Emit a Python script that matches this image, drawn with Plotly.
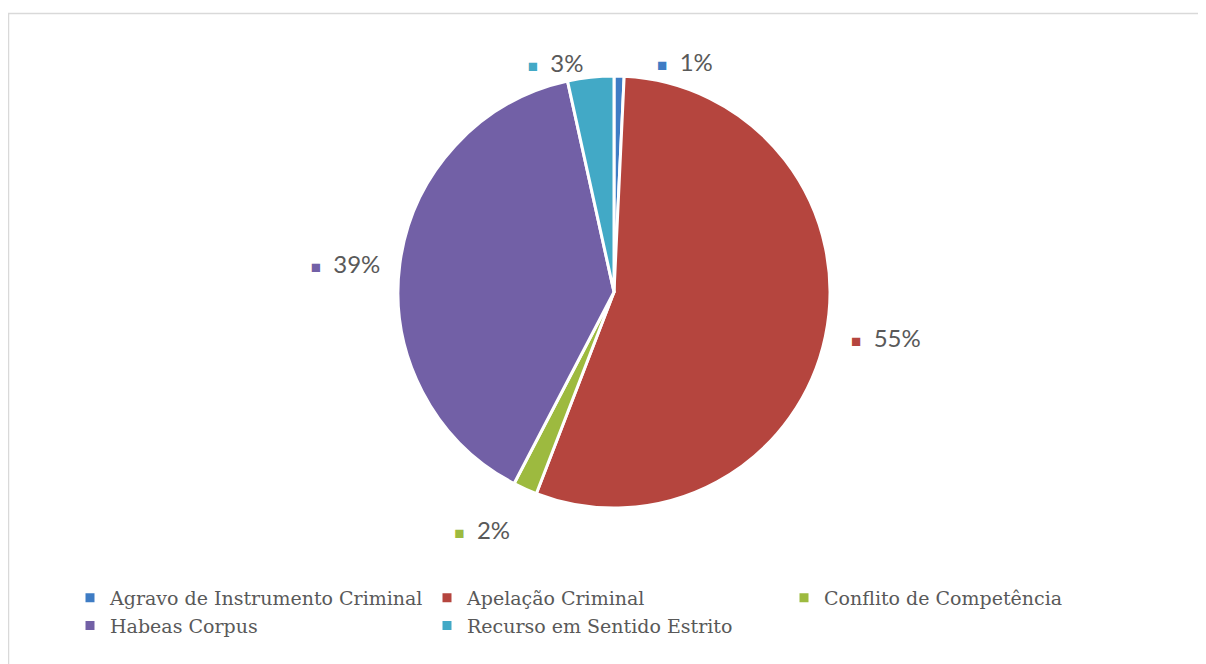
import plotly.graph_objects as go

categories = ["Agravo de Instrumento Criminal", "Apelação Criminal", "Conflito de Competência",
              "Habeas Corpus", "Recurso em Sentido Estrito"]
values = [0.75, 55.1, 1.8, 38.9, 3.45]
label_text = ["1%", "55%", "2%", "39%", "3%"]
colors = ["#3E7CC4", "#B5453E", "#9DBA3F", "#7260A6", "#42A9C6"]

# page body adds an 8px margin, so the figure is 8px smaller and coordinates are shifted by 8
W, H = 1198, 656
cx, cy, r = 606, 284, 216

NB = "\u00a0"
pre = [NB * 5, NB * 3, "", "", ""]
post = ["", "", "", NB * 2, ""]
below = [False, False, True, False, False]

texts = []
for c, t, a, b, q in zip(colors, label_text, pre, post, below):
    s = f"{a}<span style='color:{c};font-size:17px'>■</span>{NB*2}{t}{b}"
    if q:
        s = NB + "<br>" + s
    texts.append(s)

fig = go.Figure(go.Pie(
    labels=categories,
    values=values,
    text=texts,
    textinfo="text",
    textposition="outside",
    sort=False,
    direction="clockwise",
    rotation=0,
    marker=dict(colors=colors, line=dict(color="white", width=3)),
    textfont=dict(family="Lato, Open Sans, sans-serif", size=24, color="#595959"),
    domain=dict(x=[(cx - r) / W, (cx + r) / W], y=[1 - (cy + r) / H, 1 - (cy - r) / H]),
    hoverinfo="label+percent",
    showlegend=True,
))

fig.update_layout(
    width=W, height=H,
    margin=dict(l=0, r=0, t=0, b=0),
    paper_bgcolor="white",
    plot_bgcolor="white",
    legend=dict(
        orientation="h",
        x=62 / W, xanchor="left",
        y=1 - 571 / H, yanchor="top",
        entrywidth=312, entrywidthmode="pixels",
        font=dict(family="DejaVu Serif, serif", size=19, color="#595959"),
        itemwidth=30,
        tracegroupgap=0,
    ),
    shapes=[dict(type="rect", xref="paper", yref="paper",
                 x0=0.5 / W, x1=1.01, y0=-0.01, y1=1 - 5.5 / H,
                 line=dict(color="#D9D9D9", width=1.5), fillcolor="rgba(0,0,0,0)")],
)

fig.write_html("out.html")
